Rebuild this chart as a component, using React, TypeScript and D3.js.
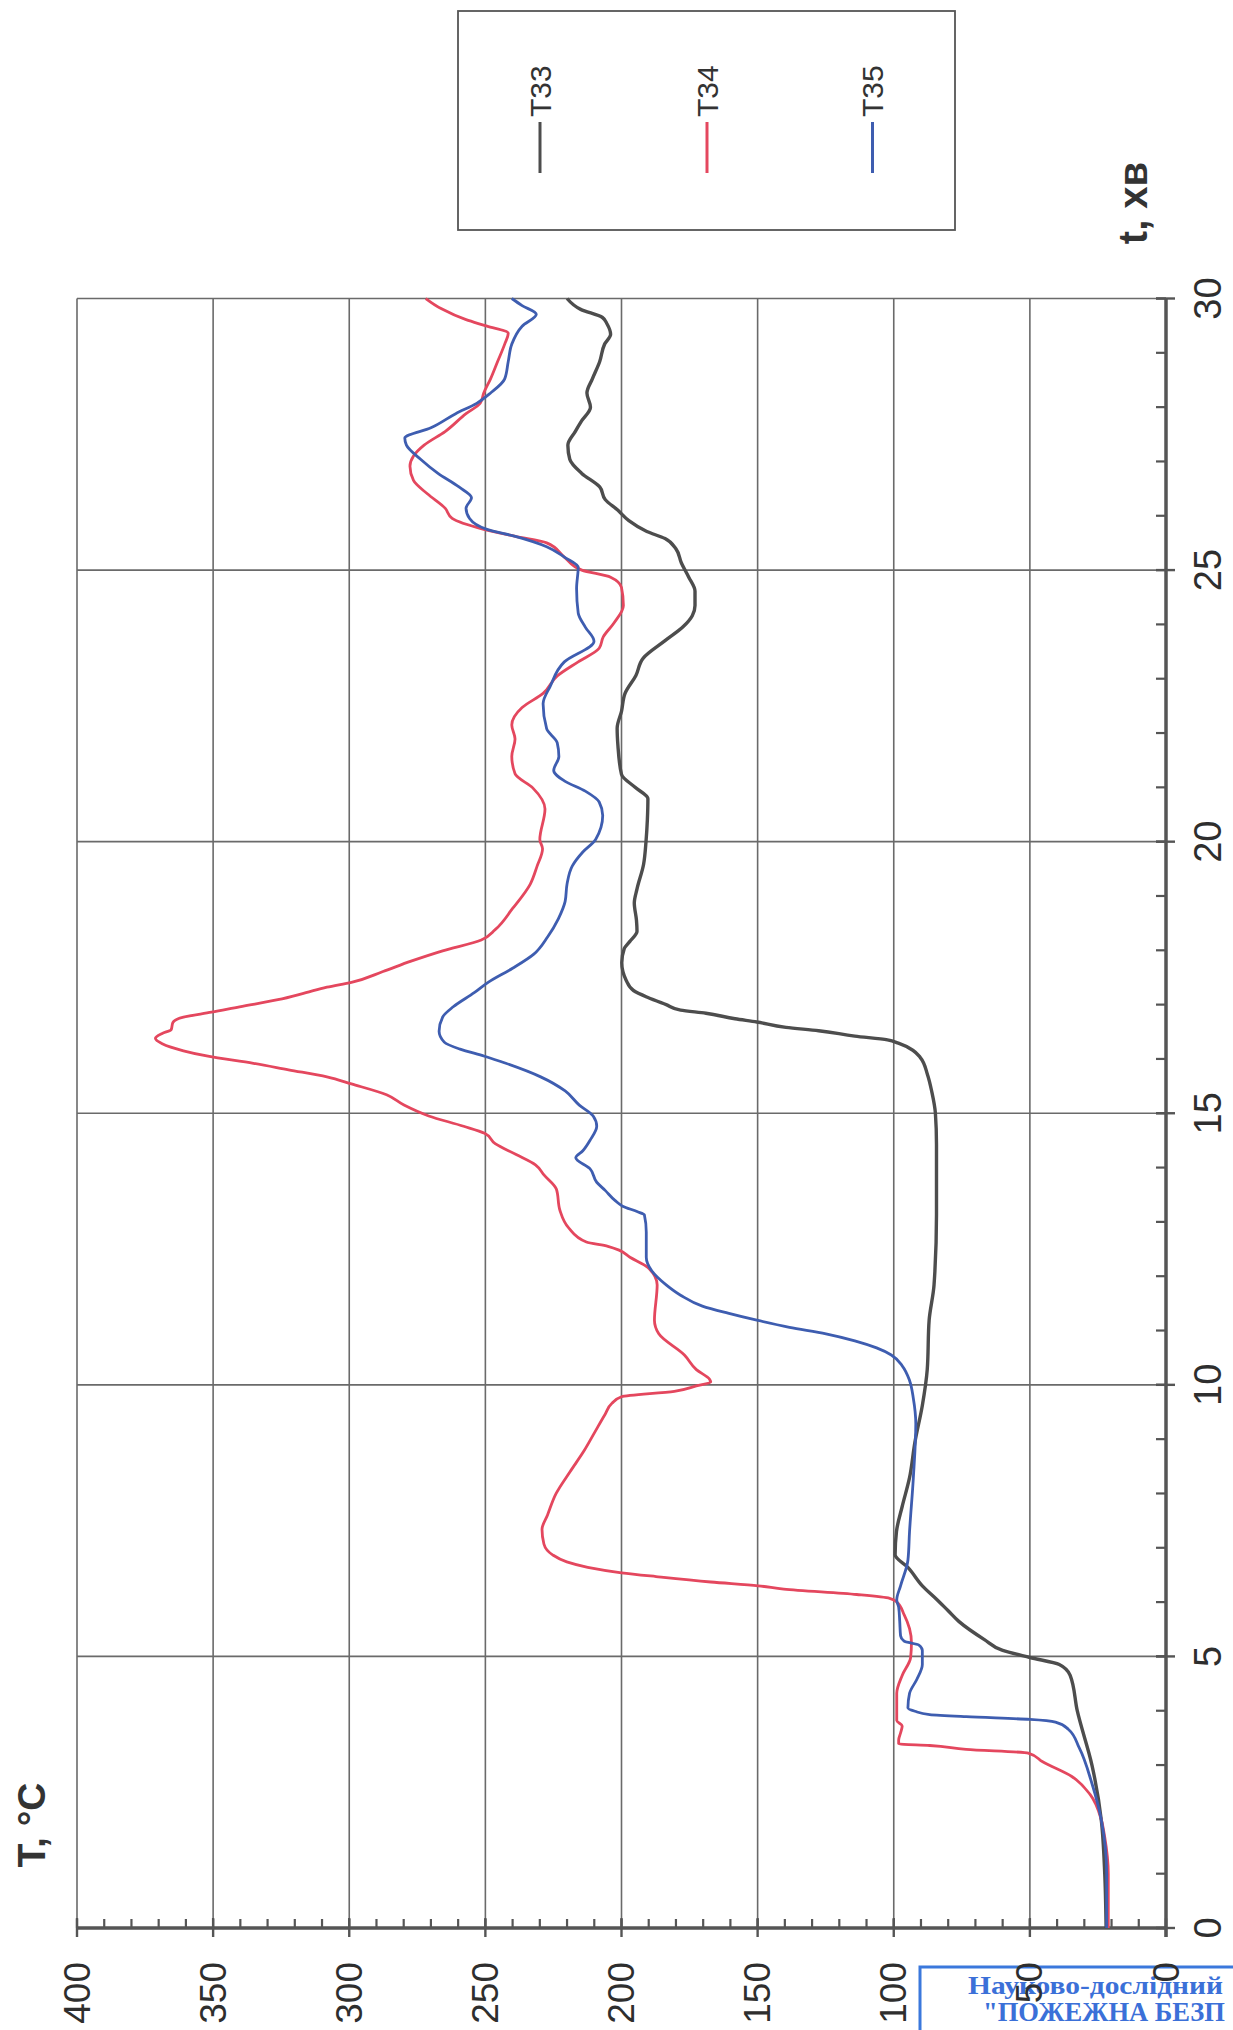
import React from "react";
import * as d3 from "d3";

// ---- data: [time (min), temperature (°C)] ----
const seriesNames = ["T33", "T34", "T35"];
const seriesColors = ["#4d4d4d", "#e4475e", "#3e5db0"];

const T33: [number, number][] = [
  [0, 22], [1, 22.5], [2, 23.8], [3, 27.2], [4, 32.6], [4.65, 35.2], [4.85, 39.2], [4.98, 50], [5.11, 60],
  [5.31, 66.7], [5.64, 76], [5.84, 80], [6.04, 84], [6.3, 89.5], [6.64, 94.8], [6.87, 99.5], [7.3, 99],
  [7.76, 96.9], [8.29, 94.2], [8.95, 92.2], [9.62, 89.5], [10.28, 87.7], [11.19, 87], [11.84, 85.2],
  [13.13, 84.3], [14.42, 84.3], [15.0, 84.7], [15.39, 86], [15.71, 87.6], [16.03, 90.3], [16.16, 93],
  [16.29, 98.3], [16.35, 102.3], [16.42, 114.3], [16.52, 127.6], [16.58, 139.6], [16.68, 150.3],
  [16.74, 158.3], [16.84, 169], [16.9, 178.3], [17.0, 183.6], [17.13, 190.3], [17.26, 195.6],
  [17.45, 198.3], [17.77, 199.9], [18.03, 199], [18.16, 197], [18.35, 194.3], [18.55, 194.5],
  [18.87, 195.3], [19.13, 194.3], [19.58, 191.9], [20.0, 191], [20.4, 190.5], [20.79, 190.3],
  [21.0, 195], [21.24, 200], [21.76, 201.3], [22.09, 201.6], [22.4, 200], [22.73, 198.7], [23.06, 194.7],
  [23.38, 192], [23.7, 184], [23.96, 177.3], [24.16, 174], [24.35, 173], [24.61, 173], [24.87, 175.3],
  [25.13, 178], [25.39, 180], [25.58, 184], [25.71, 190.7], [25.91, 197.3], [26.1, 201.3], [26.3, 206],
  [26.53, 208], [26.78, 214.6], [27.04, 219], [27.3, 219.7], [27.55, 217], [27.75, 214.6], [28.0, 211.4],
  [28.26, 212.7], [28.52, 210.7], [28.84, 208], [29.16, 206.2], [29.34, 204], [29.53, 205.3],
  [29.65, 207], [29.8, 215], [30, 220],
];

const T34: [number, number][] = [
  [0, 21.2], [1, 21.2], [1.67, 22.5], [2, 23.8], [2.46, 27.9], [2.79, 34.6], [3.06, 45.3], [3.22, 50.6],
  [3.29, 73.4], [3.36, 86.8], [3.39, 98.2], [3.46, 98.2], [3.59, 97.5], [3.72, 96.9], [3.82, 98.9],
  [4.32, 98.9], [4.65, 96.9], [4.98, 93.8], [5.25, 93.5], [5.51, 94.2], [5.77, 96.2], [6.0, 98.9],
  [6.07, 101.5], [6.14, 113.6], [6.24, 140.4], [6.3, 149.8], [6.37, 167.2], [6.47, 187.3], [6.54, 200],
  [6.64, 212.4], [6.74, 220.1], [6.87, 225.3], [7.07, 228.5], [7.34, 229.2], [7.6, 227.2], [8.0, 224],
  [8.4, 218.9], [8.79, 213.7], [9.13, 209.8], [9.46, 206], [9.66, 203.5], [9.78, 200], [9.88, 180.6],
  [9.98, 172.5], [10.05, 167.2], [10.1, 167.6], [10.28, 172.5], [10.55, 176.9], [10.94, 186.3],
  [11.19, 187.9], [11.84, 186.9], [12.16, 190.3], [12.35, 196.9], [12.48, 200.9], [12.55, 205],
  [12.63, 212.9], [12.89, 219.4], [13.21, 222.6], [13.6, 223.9], [13.86, 228.4], [14.05, 231.6],
  [14.24, 238.7], [14.44, 246.4], [14.63, 250.3], [14.76, 258], [14.95, 270.8], [15.15, 279.9],
  [15.34, 286.3], [15.54, 299.2], [15.67, 308.2], [15.8, 322.3], [15.92, 335.2], [16.05, 351.9],
  [16.15, 360.9], [16.28, 368.7], [16.38, 371.2], [16.47, 368.7], [16.54, 365.4], [16.67, 364.8],
  [16.77, 360.9], [16.86, 350.6], [16.96, 340.3], [17.09, 326.2], [17.22, 315.9], [17.32, 308.2],
  [17.41, 299.2], [17.61, 287.6], [17.8, 277.3], [17.99, 265.7], [18.19, 251.5], [18.38, 246.4],
  [18.77, 240], [19.22, 233.5], [19.55, 231], [19.87, 229], [20.04, 230], [20.6, 228.1], [20.99, 232.6],
  [21.25, 239.1], [21.57, 240.3], [21.89, 239.1], [22.15, 240.3], [22.47, 236.5], [22.73, 228.8],
  [23.05, 223.6], [23.31, 215.9], [23.56, 208.2], [23.77, 206.7], [24.03, 202.7], [24.35, 199.3],
  [24.68, 200], [24.87, 204], [25.0, 214.6], [25.24, 221], [25.5, 227.5], [25.62, 239], [25.75, 250.6],
  [25.95, 262.2], [26.14, 264.8], [26.4, 271.2], [26.65, 276.4], [26.91, 277.7], [27.1, 276.4],
  [27.3, 272.5], [27.55, 264.8], [27.88, 257.1], [28.07, 251.9], [28.26, 250.6], [28.52, 248.1],
  [28.84, 245.5], [29.16, 242.9], [29.36, 241.6], [29.49, 249.4], [29.61, 257.1], [29.81, 266.1],
  [30, 271.9],
];

const T35: [number, number][] = [
  [0, 21.8], [1, 21.8], [2, 23.8], [2.66, 27.2], [3.32, 31.9], [3.66, 35.9], [3.79, 40.6], [3.84, 50],
  [3.89, 73.4], [3.93, 86.8], [3.99, 92.2], [4.05, 94.8], [4.32, 94.2], [4.58, 91.5], [4.85, 89.5],
  [5.11, 89.5], [5.21, 90.8], [5.28, 96.2], [5.38, 97.5], [5.64, 97.8], [5.91, 98.2], [6.04, 98.9],
  [6.3, 97.5], [6.77, 94.8], [7.3, 94.2], [8.29, 92.8], [9.28, 91.9], [9.75, 92.8], [10.08, 94.2],
  [10.35, 96.9], [10.55, 100.9], [10.68, 106.3], [10.81, 114.3], [10.94, 124.9], [11.06, 138.3],
  [11.19, 150.3], [11.32, 160.9], [11.45, 170.3], [11.65, 178.3], [11.84, 183.6], [12.1, 188.9],
  [12.35, 190.9], [12.81, 190.9], [13.13, 191.6], [13.19, 194.3], [13.29, 199.6], [13.39, 202.3],
  [13.58, 206], [13.73, 209.1], [13.98, 211.6], [14.18, 216.8], [14.31, 214.2], [14.5, 211.6],
  [14.76, 209.1], [14.95, 210.4], [15.15, 215.5], [15.41, 220.7], [15.67, 229.7], [15.92, 242.5],
  [16.05, 250.3], [16.18, 259.3], [16.31, 265.1], [16.51, 267], [16.77, 265.7], [16.96, 261.8],
  [17.22, 254.1], [17.41, 249], [17.67, 240], [17.93, 232.2], [18.25, 227.1], [18.58, 223.2],
  [18.9, 220.7], [19.22, 220], [19.55, 218.1], [19.81, 214.2], [20.04, 209.5], [20.48, 206.9],
  [20.73, 208.2], [20.93, 213.3], [21.12, 221], [21.31, 224.9], [21.57, 223], [21.82, 223.6],
  [22.08, 227.5], [22.54, 228.8], [22.86, 226.2], [23.31, 221], [23.69, 210.1], [23.95, 213.3],
  [24.21, 215.9], [24.66, 216.5], [25.05, 215.9], [25.24, 221], [25.43, 227.5], [25.62, 239],
  [25.75, 249.4], [25.95, 255.8], [26.14, 257.1], [26.33, 255.1], [26.53, 259.7], [26.78, 267.4],
  [27.04, 273.8], [27.3, 279], [27.43, 279.6], [27.62, 270], [27.88, 260.9], [28.07, 253.2],
  [28.26, 248.1], [28.52, 242.9], [28.84, 241.6], [29.16, 240.3], [29.49, 236.5], [29.71, 231.3],
  [29.87, 236.5], [30, 240.3],
];

const seriesData = [T33, T34, T35];

const timeMajorTicks = [0, 5, 10, 15, 20, 25, 30];
const tempMajorTicks = [0, 50, 100, 150, 200, 250, 300, 350, 400];

const tempAxisTitle = "T, °C";
const timeAxisTitle = "t, хв";
const stampLine1 = "Науково-дослідний";
const stampLine2 = "\"ПОЖЕЖНА БЕЗП";

const FONT = "'Liberation Sans', Arial, sans-serif";

export default function App() {
  const W = 1233;
  const H = 2030;
  // chart is rotated: temperature runs right -> left, time runs bottom -> top
  const xT = d3.scaleLinear().domain([0, 400]).range([1166, 77]);
  const yt = d3.scaleLinear().domain([0, 30]).range([1928, 298.5]);

  const line = d3
    .line<[number, number]>()
    .x((d) => xT(d[1]))
    .y((d) => yt(d[0]))
    .curve(d3.curveMonotoneY);

  const minorT = d3.range(0, 401, 10);
  const minorTime = d3.range(0, 31, 1);
  const gridCol = "#6a6a6a";
  const axisCol = "#555";

  return (
    <svg
      width={W}
      height={H}
      style={{ position: "absolute", left: 0, top: 0, background: "#fff" }}
      fontFamily={FONT}
    >
      <rect x={0} y={0} width={W} height={H} fill="#fff" />

      {/* grid: temperature lines */}
      {tempMajorTicks.map((v) => (
        <line key={"gt" + v} x1={xT(v)} x2={xT(v)} y1={yt(0)} y2={yt(30)} stroke={gridCol} strokeWidth={1.6} />
      ))}
      {/* grid: time lines */}
      {timeMajorTicks.map((v) => (
        <line key={"gy" + v} x1={xT(0)} x2={xT(400)} y1={yt(v)} y2={yt(v)} stroke={gridCol} strokeWidth={1.6} />
      ))}

      {/* temperature axis (bottom) */}
      <line x1={xT(400)} x2={xT(0)} y1={yt(0)} y2={yt(0)} stroke={axisCol} strokeWidth={3.5} />
      {minorT.map((v) => (
        <line key={"mt" + v} x1={xT(v)} x2={xT(v)} y1={yt(0) - 9} y2={yt(0)} stroke={axisCol} strokeWidth={2.2} />
      ))}
      {tempMajorTicks.map((v) => (
        <line key={"Mt" + v} x1={xT(v)} x2={xT(v)} y1={yt(0) - 10} y2={yt(0) + 9} stroke={axisCol} strokeWidth={2.4} />
      ))}

      {/* time axis (right) */}
      <line x1={xT(0)} x2={xT(0)} y1={yt(30)} y2={yt(0) + 9} stroke={axisCol} strokeWidth={3.5} />
      {minorTime.map((v) => (
        <line key={"my" + v} x1={xT(0) - 10} x2={xT(0)} y1={yt(v)} y2={yt(v)} stroke={axisCol} strokeWidth={2.2} />
      ))}
      {timeMajorTicks.map((v) => (
        <line key={"My" + v} x1={xT(0) - 10} x2={xT(0) + 9} y1={yt(v)} y2={yt(v)} stroke={axisCol} strokeWidth={2.4} />
      ))}

      {/* series */}
      {seriesData.map((d, i) => (
        <path
          key={seriesNames[i]}
          d={line(d) || ""}
          fill="none"
          stroke={seriesColors[i]}
          strokeWidth={i === 0 ? 3.4 : 2.8}
          strokeLinejoin="round"
        />
      ))}

      {/* stamp */}
      <rect x={920} y={1967} width={340} height={100} fill="none" stroke="#3b78dc" strokeWidth={3} />
      <text x={968} y={1994} fontFamily="'Liberation Serif', 'DejaVu Serif', serif" fontWeight="bold" fontSize={25} fill="#3b70d8" textLength={255} lengthAdjust="spacingAndGlyphs">
        {stampLine1}
      </text>
      <text x={983} y={2021} fontFamily="'Liberation Serif', 'DejaVu Serif', serif" fontWeight="bold" fontSize={27} fill="#3b70d8" textLength={242} lengthAdjust="spacingAndGlyphs">
        {stampLine2}
      </text>

      {/* temperature tick labels */}
      {tempMajorTicks.map((v) => (
        <text
          key={"lt" + v}
          transform={`translate(${xT(v)},${1962}) rotate(-90)`}
          textAnchor="end"
          dominantBaseline="central"
          fontSize={37}
          fill="#2e2e2e"
        >
          {v}
        </text>
      ))}
      {/* time tick labels */}
      {timeMajorTicks.map((v) => (
        <text
          key={"ly" + v}
          transform={`translate(${1208},${yt(v)}) rotate(-90)`}
          textAnchor="middle"
          dominantBaseline="central"
          fontSize={38}
          fill="#2e2e2e"
        >
          {v}
        </text>
      ))}

      {/* axis titles */}
      <text transform={`translate(31,1825) rotate(-90)`} textAnchor="middle" dominantBaseline="central" fontSize={39} fontWeight="bold" fill="#333">
        {tempAxisTitle}
      </text>
      <text transform={`translate(1133,203) rotate(-90)`} textAnchor="middle" dominantBaseline="central" fontSize={40} fontWeight="bold" fill="#333">
        {timeAxisTitle}
      </text>

      {/* legend */}
      <rect x={458} y={11} width={497} height={219} fill="#fff" stroke="#555" strokeWidth={1.8} />
      {seriesNames.map((n, i) => {
        const cx = [540, 707, 872.5][i];
        return (
          <g key={"lg" + n}>
            <line x1={cx} x2={cx} y1={122} y2={173} stroke={seriesColors[i]} strokeWidth={3} />
            <text
              transform={`translate(${cx},${117}) rotate(-90)`}
              textAnchor="start"
              dominantBaseline="central"
              fontSize={30}
              fill="#333"
            >
              {n}
            </text>
          </g>
        );
      })}
    </svg>
  );
}
